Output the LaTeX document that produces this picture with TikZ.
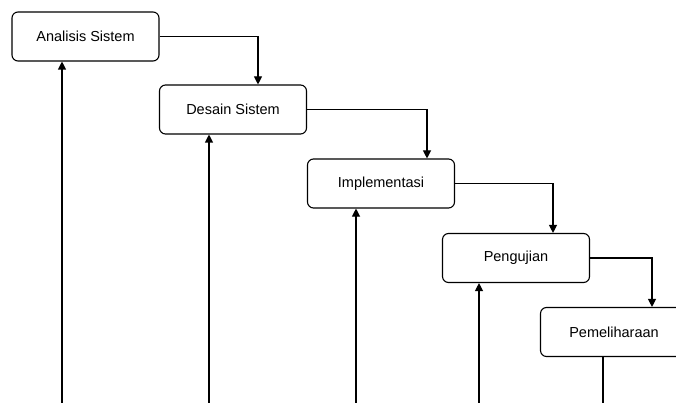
\documentclass[tikz,border=0pt]{standalone}
\usepackage{fontspec}
\setmainfont{Liberation Sans}
\usetikzlibrary{arrows.meta}
\begin{document}
\begin{tikzpicture}[x=1pt,y=-1pt,
  stagebox/.style={draw=black, line width=1.1pt, rounded corners=6pt, minimum width=147pt, minimum height=49pt, inner sep=0pt, font=\fontsize{14.5}{17}\selectfont, fill=white},
  flow/.style={draw=black, line width=1.1pt, -{Triangle[length=8pt,width=8pt]}},
  plainline/.style={draw=black, line width=1.1pt}]
\useasboundingbox (0,0) rectangle (676,403);
\fill[white] (0,0) rectangle (676,403);
\node[stagebox] (a) at (85.5,36.5) {Analisis Sistem};
\node[stagebox] (b) at (233,109.5) {Desain Sistem};
\node[stagebox] (c) at (381,183.5) {Implementasi};
\node[stagebox] (d) at (516,258) {Pengujian};
\node[stagebox] (e) at (614,332) {Pemeliharaan};
% forward flow
\draw[flow] (a.east) -| ([xshift=25pt]b.north);
\draw[flow] (b.east) -| ([xshift=46pt]c.north);
\draw[flow] (c.east) -| ([xshift=37pt]d.north);
\draw[flow] (d.east) -| ([xshift=38pt]e.north);
% feedback lines from bottom
\coordinate (a0) at (62,403);
\coordinate (b0) at (209,403);
\coordinate (c0) at (356,403);
\coordinate (d0) at (479,403);
\coordinate (e0) at (603,403);
\draw[flow] (a0) -- (a0 |- a.south);
\draw[flow] (b0) -- (b0 |- b.south);
\draw[flow] (c0) -- (c0 |- c.south);
\draw[flow] (d0) -- (d0 |- d.south);
\draw[plainline] (e0 |- e.south) -- (e0);
\end{tikzpicture}
\end{document}
